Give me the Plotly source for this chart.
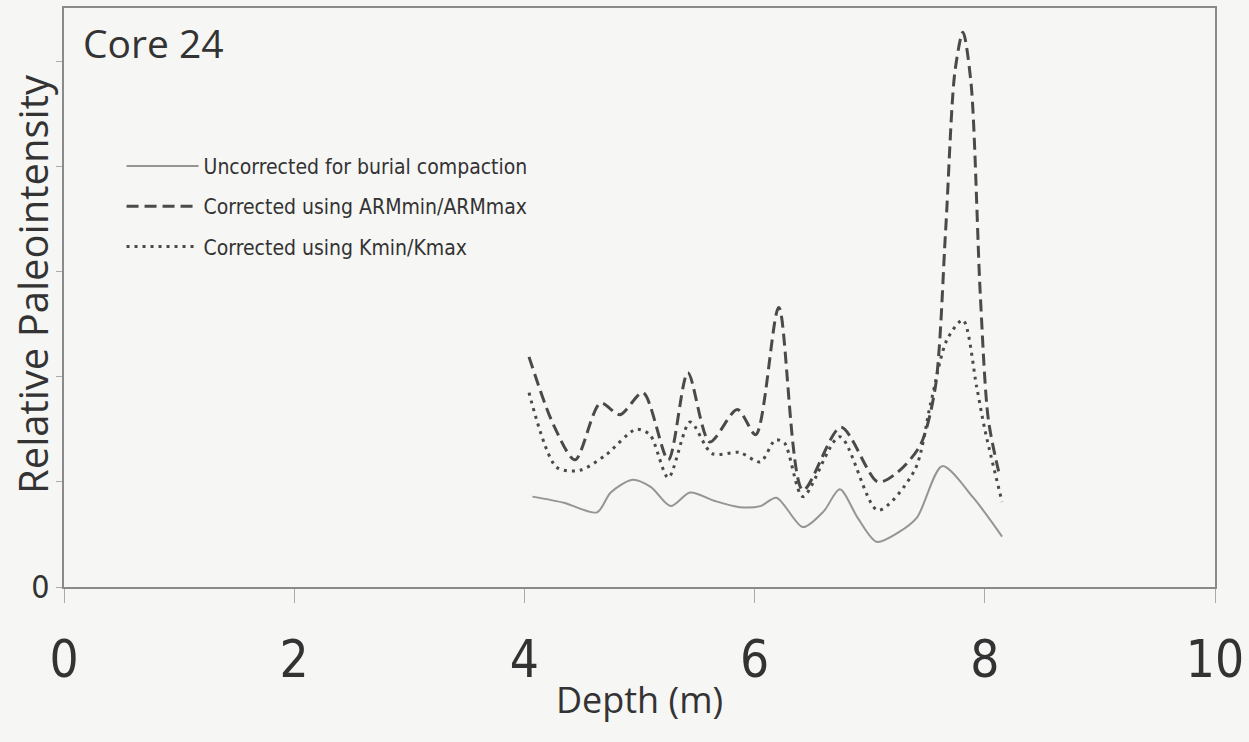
import plotly.graph_objects as go

# Uncorrected for burial compaction
depth_unc = [4.07, 4.35, 4.63, 4.75, 4.94, 5.10, 5.27, 5.44, 5.65, 5.87, 6.05, 6.19, 6.42, 6.60, 6.74, 6.90, 7.06, 7.25, 7.41, 7.63, 7.90, 8.15]
pi_unc = [0.86, 0.80, 0.71, 0.90, 1.02, 0.95, 0.77, 0.90, 0.82, 0.76, 0.77, 0.85, 0.57, 0.72, 0.93, 0.65, 0.43, 0.52, 0.66, 1.15, 0.85, 0.48]

# Corrected using ARMmin/ARMmax
depth_arm = [4.04, 4.25, 4.44, 4.66, 4.83, 5.03, 5.25, 5.42, 5.61, 5.85, 6.01, 6.21, 6.42, 6.75, 7.07, 7.24, 7.44, 7.57, 7.66, 7.74, 7.81, 7.88, 7.96, 8.03, 8.12]
pi_arm = [2.19, 1.55, 1.21, 1.75, 1.64, 1.85, 1.21, 2.04, 1.38, 1.69, 1.45, 2.66, 0.92, 1.52, 1.00, 1.09, 1.35, 1.90, 3.40, 4.90, 5.28, 4.80, 2.80, 1.60, 1.10]

# Corrected using Kmin/Kmax
depth_k = [4.04, 4.28, 4.48, 4.70, 4.97, 5.09, 5.25, 5.44, 5.63, 5.87, 6.05, 6.18, 6.26, 6.42, 6.74, 7.07, 7.39, 7.53, 7.67, 7.81, 7.93, 8.00, 8.15]
pi_k = [1.85, 1.14, 1.11, 1.25, 1.50, 1.45, 1.04, 1.57, 1.27, 1.28, 1.19, 1.40, 1.37, 0.86, 1.43, 0.73, 1.11, 1.75, 2.35, 2.54, 1.90, 1.50, 0.81]

x_ticks = [0, 2, 4, 6, 8, 10]
y_ticks = [0, 1, 2, 3, 4, 5]
y_tick_text = ["0", "", "", "", "", ""]

COND = "DejaVu Sans Condensed, Liberation Sans Narrow, sans-serif"
REG = "Open Sans, Liberation Sans, sans-serif"
TXT = "#333333"

fig = go.Figure()
fig.add_trace(go.Scatter(x=depth_unc, y=pi_unc, mode="lines", name="Uncorrected for burial compaction",
                         legendgroup="a",
                         line=dict(color="#959595", width=2, shape="spline", smoothing=0.8)))
fig.add_trace(go.Scatter(x=depth_arm, y=pi_arm, mode="lines", name="Corrected using ARMmin/ARMmax",
                         legendgroup="b",
                         line=dict(color="#4a4a4a", width=3, dash="12px,6px", shape="spline", smoothing=0.8)))
fig.add_trace(go.Scatter(x=depth_k, y=pi_k, mode="lines", name="Corrected using Kmin/Kmax",
                         legendgroup="c",
                         line=dict(color="#4a4a4a", width=3, dash="3px,5px", shape="spline", smoothing=0.8)))

fig.update_layout(
    width=1249, height=742,
    margin=dict(l=64, r=34, t=8, b=155),
    paper_bgcolor="#f6f6f4", plot_bgcolor="#f6f6f4",
    showlegend=True,
    legend=dict(x=0.05, y=0.762, xanchor="left", yanchor="top", bgcolor="rgba(0,0,0,0)",
                font=dict(family=COND, size=21, color=TXT),
                tracegroupgap=10, itemwidth=72),
    annotations=[
        dict(text="Core 24", xref="paper", yref="paper", x=0.015, y=0.99,
             xanchor="left", yanchor="top", showarrow=False,
             font=dict(family=REG, size=39, color=TXT)),
        dict(text="Relative Paleointensity", xref="paper", yref="paper", x=-0.028, y=0.523,
             xanchor="center", yanchor="middle", textangle=-90, showarrow=False,
             font=dict(family=REG, size=40, color=TXT)),
    ],
)
fig.update_xaxes(range=[0, 10], tickvals=x_ticks, showgrid=False, zeroline=False, automargin=False,
                 showline=True, linecolor="#8a8a8a", linewidth=2, mirror=True,
                 ticks="outside", ticklen=14, tickcolor="#aaa", tickwidth=1,
                 ticklabelstandoff=13,
                 tickfont=dict(family=COND, size=51, color=TXT),
                 title=dict(text="Depth (m)", font=dict(family=REG, size=36, color=TXT), standoff=0))
fig.update_yaxes(range=[0, 5.51], tickvals=y_ticks, ticktext=y_tick_text, showgrid=False, zeroline=False,
                 automargin=False,
                 showline=True, linecolor="#8a8a8a", linewidth=2, mirror=True,
                 ticks="outside", ticklen=6, tickcolor="#aaa", tickwidth=1,
                 tickfont=dict(family=COND, size=32, color=TXT))

fig.write_html("out.html")
